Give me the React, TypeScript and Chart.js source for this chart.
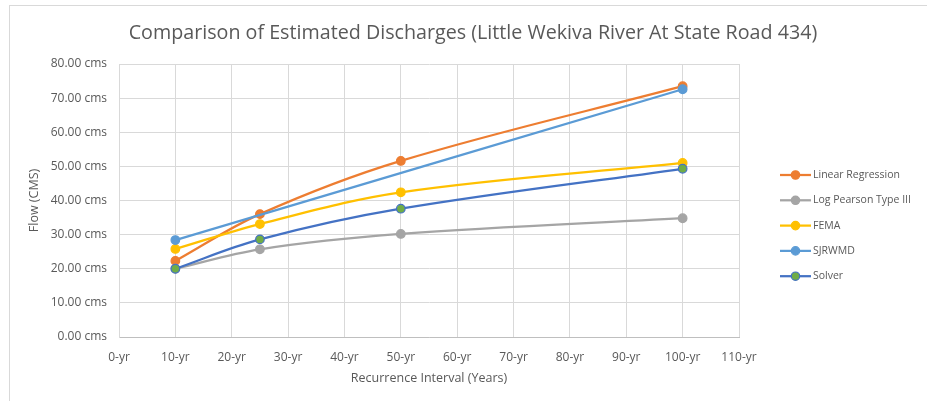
import React, { useEffect, useRef } from "react";
import { Chart, registerables } from "chart.js";
Chart.register(...registerables);

const recurrenceYears = [10, 25, 50, 100];
const linearRegression = [22.3, 36.0, 51.6, 73.5];
const logPearsonTypeIII = [20.0, 25.7, 30.2, 34.8];
const fema = [25.8, 33.1, 42.4, 51.0];
const sjrwmd: (number | null)[] = [28.4, null, null, 72.6];
const solver = [20.0, 28.6, 37.6, 49.3];
const seriesNames = ["Linear Regression", "Log Pearson Type III", "FEMA", "SJRWMD", "Solver"];
const lineColors = ["#ED7D31", "#A5A5A5", "#FFC000", "#5B9BD5", "#4472C4"];
const markerFills = ["#ED7D31", "#A5A5A5", "#FFC000", "#5B9BD5", "#70AD47"];
const titleText = "Comparison of Estimated Discharges (Little Wekiva River At State Road 434)";
const xAxisTitle = "Recurrence Interval (Years)";
const yAxisTitle = "Flow (CMS)";

const FONT = "'Open Sans', sans-serif";
const TEXT = "#595959";

function toPoints(vals: (number | null)[]) {
  const pts: { x: number; y: number }[] = [];
  vals.forEach((v, i) => {
    if (v !== null) pts.push({ x: recurrenceYears[i], y: v });
  });
  return pts;
}

const titlePlugin = {
  id: "customTitle",
  afterDraw(chart: any) {
    const ctx = chart.ctx;
    ctx.save();
    ctx.fillStyle = TEXT;
    ctx.font = `19.7px ${FONT}`;
    ctx.textAlign = "center";
    ctx.textBaseline = "middle";
    ctx.fillText(titleText, 473, 33);
    ctx.restore();
  },
};

const legendPlugin = {
  id: "customLegend",
  afterDraw(chart: any) {
    const ctx = chart.ctx;
    ctx.save();
    chart.data.datasets.forEach((ds: any, i: number) => {
      const y = 175 + i * 25.3;
      ctx.strokeStyle = ds.borderColor;
      ctx.lineWidth = 2.25;
      ctx.beginPath();
      ctx.moveTo(780, y);
      ctx.lineTo(811, y);
      ctx.stroke();
      ctx.beginPath();
      ctx.arc(795.5, y, 4.2, 0, Math.PI * 2);
      ctx.fillStyle = ds.pointBackgroundColor;
      ctx.fill();
      ctx.lineWidth = 1.2;
      ctx.strokeStyle = ds.pointBorderColor;
      ctx.stroke();
      ctx.fillStyle = TEXT;
      ctx.font = `10.5px ${FONT}`;
      ctx.textAlign = "left";
      ctx.textBaseline = "middle";
      ctx.fillText(ds.label, 813, y);
    });
    ctx.restore();
  },
};

export default function App() {
  const ref = useRef<HTMLCanvasElement>(null);
  useEffect(() => {
    document.body.style.margin = "0";
    const seriesValues = [linearRegression, logPearsonTypeIII, fema, sjrwmd, solver];
    const chart = new Chart(ref.current!, {
      type: "line",
      data: {
        datasets: seriesValues.map((vals, i) => ({
          label: seriesNames[i],
          data: toPoints(vals),
          borderColor: lineColors[i],
          backgroundColor: lineColors[i],
          pointBackgroundColor: markerFills[i],
          pointBorderColor: lineColors[i],
          pointBorderWidth: 1.2,
          pointRadius: 4.3,
          borderWidth: 2.25,
          tension: 0.35,
          fill: false,
          order: seriesValues.length - i,
        })),
      },
      options: {
        animation: false,
        responsive: false,
        maintainAspectRatio: false,
        layout: { padding: { left: 23, right: 188, top: 64, bottom: 0 } },
        plugins: {
          legend: { display: false },
          tooltip: { enabled: false },
          title: { display: false },
        },
        scales: {
          x: {
            type: "linear",
            min: 0,
            max: 110,
            ticks: {
              stepSize: 10,
              color: TEXT,
              font: { family: FONT, size: 12 },
              padding: 13,
              maxRotation: 0,
              callback: (v: any) => `${v}-yr`,
            },
            grid: { color: "#d9d9d9", drawTicks: false, lineWidth: 1 },
            border: { color: "#bfbfbf" },
            title: {
              display: true,
              text: xAxisTitle,
              color: TEXT,
              font: { family: FONT, size: 12.5 },
              padding: { top: 0, bottom: 15 },
            },
            afterFit: (s: any) => {
              s.height = 64;
            },
          },
          y: {
            type: "linear",
            min: 0,
            max: 80,
            ticks: {
              stepSize: 10,
              color: TEXT,
              font: { family: FONT, size: 12 },
              padding: 12,
              callback: (v: any) => `${Number(v).toFixed(2)} cms`,
            },
            grid: { color: "#d9d9d9", drawTicks: false, lineWidth: 1 },
            border: { color: "#d9d9d9" },
            title: {
              display: true,
              text: yAxisTitle,
              color: TEXT,
              font: { family: FONT, size: 12.5 },
              padding: { top: 4, bottom: 4 },
            },
            afterFit: (s: any) => {
              s.width = 96;
            },
          },
        },
      },
      plugins: [legendPlugin, titlePlugin],
    });
    return () => chart.destroy();
  }, []);
  return (
    <div style={{ position: "relative", width: 927, height: 401, background: "#fff", overflow: "hidden" }}>
      <div
        style={{
          position: "absolute",
          left: 9,
          top: 5,
          width: 1000,
          height: 500,
          borderLeft: "1px solid #d9d9d9",
          borderTop: "1px solid #d9d9d9",
        }}
      />
      <canvas ref={ref} width={927} height={401} style={{ position: "absolute", left: 0, top: 0 }} />
    </div>
  );
}
